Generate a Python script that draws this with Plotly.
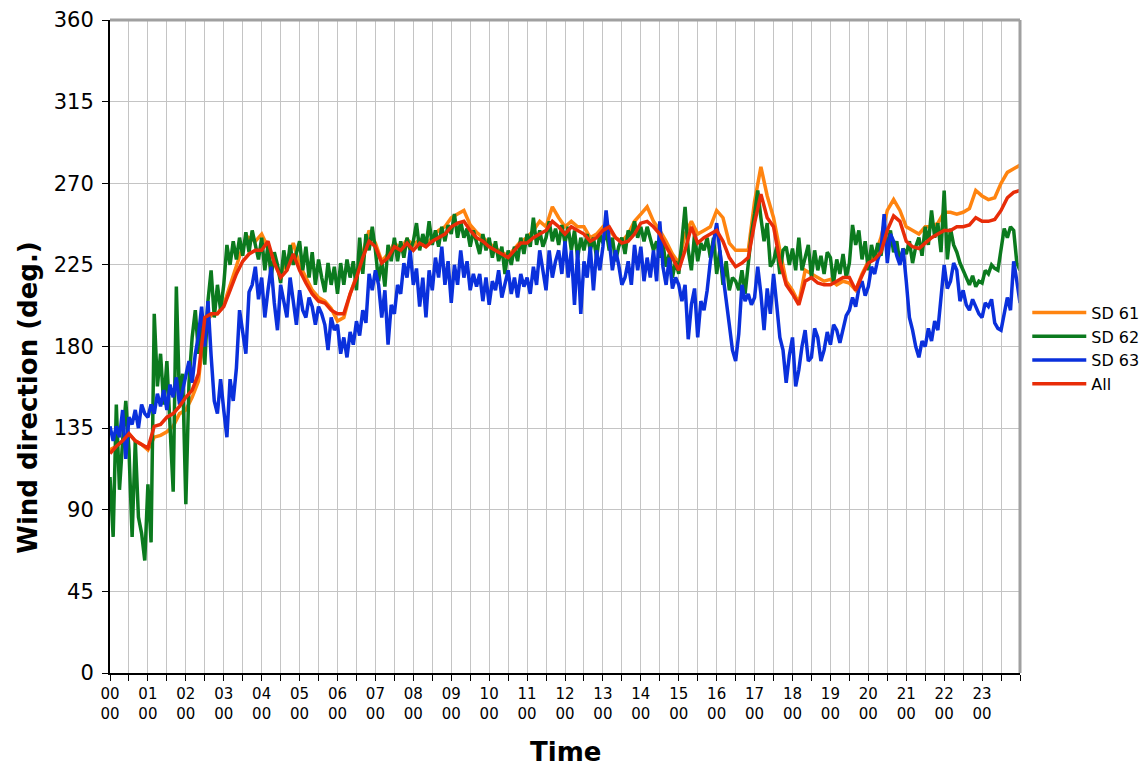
import numpy as np
import plotly.graph_objects as go

# 5-minute samples (00:00 .. 24:00) for the two noisier sensors
sd62 = [
    108, 75, 148, 101, 128, 150, 123, 75, 128, 86, 77, 62,
    104, 72, 198, 158, 176, 148, 172, 140, 100, 213, 150, 165,
    93, 160, 185, 200, 176, 196, 170, 205, 222, 196, 214, 200,
    214, 236, 225, 238, 228, 240, 230, 243, 232, 244, 236, 228,
    240, 222, 236, 218, 232, 225, 215, 233, 222, 236, 225, 232,
    238, 222, 235, 218, 232, 214, 228, 218, 210, 226, 214, 224,
    209, 226, 214, 228, 218, 227, 211, 240, 220, 242, 233, 246,
    233, 216, 227, 213, 236, 227, 240, 227, 238, 229, 240, 233,
    238, 248, 233, 242, 235, 249, 236, 244, 235, 246, 238, 247,
    242, 253, 240, 249, 240, 245, 235, 244, 238, 231, 242, 233,
    240, 229, 238, 227, 235, 220, 233, 225, 235, 227, 240, 231,
    242, 235, 251, 236, 244, 235, 240, 249, 238, 245, 236, 247,
    237, 246, 233, 244, 229, 240, 233, 242, 233, 240, 229, 242,
    237, 244, 233, 240, 227, 235, 240, 231, 244, 240, 249, 240,
    246, 238, 246, 240, 233, 238, 229, 237, 224, 231, 218, 227,
    220, 238, 257, 233, 222, 242, 227, 237, 233, 240, 229, 240,
    220, 233, 214, 227, 211, 218, 216, 211, 222, 209, 225, 242,
    253, 266, 251, 238, 248, 224, 227, 235, 220, 233, 235, 225,
    234, 222, 240, 222, 229, 236, 218, 233, 222, 230, 220, 232,
    229, 215, 228, 220, 231, 218, 226, 247, 236, 244, 228, 238,
    222, 236, 228, 237, 230, 242, 236, 244, 232, 238, 226, 234,
    231, 238, 226, 235, 240, 230, 246, 236, 255, 240, 248, 232,
    266, 228, 245, 236, 232, 226, 222, 218, 214, 219, 213, 216,
    215, 222, 220, 225, 223, 222, 233, 245, 240, 246, 244, 226,
    222,
]

sd63 = [
    136, 128, 136, 130, 145, 118, 141, 137, 145, 135, 148, 143,
    141, 148, 143, 154, 147, 156, 145, 159, 152, 163, 148, 156,
    163, 172, 160, 176, 186, 202, 180, 205, 175, 150, 143, 162,
    145, 130, 162, 150, 168, 200, 188, 176, 210, 214, 224, 206,
    218, 196, 211, 224, 204, 189, 214, 204, 196, 218, 205, 192,
    211, 200, 196, 207, 202, 192, 202, 198, 192, 178, 196, 189,
    192, 176, 185, 174, 188, 181, 194, 186, 200, 193, 220, 211,
    222, 214, 196, 211, 181, 203, 198, 214, 209, 226, 218, 233,
    214, 223, 202, 218, 196, 222, 211, 229, 218, 235, 214, 227,
    204, 225, 214, 233, 218, 227, 211, 220, 213, 220, 205, 218,
    203, 216, 211, 222, 207, 214, 222, 209, 218, 207, 220, 213,
    218, 209, 224, 214, 233, 222, 211, 233, 218, 227, 233, 220,
    238, 218, 233, 203, 233, 198, 227, 218, 235, 211, 233, 222,
    235, 255, 236, 222, 233, 225, 214, 218, 227, 214, 236, 222,
    235, 216, 229, 218, 233, 216, 249, 224, 214, 229, 212, 218,
    214, 205, 214, 184, 203, 212, 185, 205, 200, 211, 227, 238,
    248, 233, 218, 205, 192, 178, 172, 187, 214, 205, 209, 203,
    207, 224, 209, 189, 212, 198, 220, 203, 185, 178, 160, 175,
    185, 158, 167, 180, 189, 172, 174, 190, 185, 172, 178, 188,
    181, 192, 189, 182, 190, 197, 200, 207, 202, 212, 216, 208,
    213, 224, 220, 228, 233, 253, 226, 242, 238, 230, 225, 234,
    216, 196, 189, 180, 174, 183, 180, 190, 183, 194, 189, 208,
    225, 212, 216, 226, 222, 205, 211, 203, 200, 206, 202, 198,
    196, 204, 202, 206, 193, 190, 189, 198, 207, 200, 227, 216,
    204,
]

# 10-minute samples (00:00 .. 24:00)
sd61 = [
    123, 125, 128, 132, 128, 126,
    123, 130, 131, 133, 136, 143,
    145, 152, 161, 193, 197, 198,
    203, 214, 224, 235, 240, 238,
    242, 235, 227, 220, 227, 237,
    225, 218, 211, 207, 205, 201,
    194, 196, 209, 219, 231, 244,
    237, 227, 231, 237, 234, 239,
    236, 239, 236, 240, 244, 246,
    251, 253, 255, 247, 243, 240,
    237, 234, 232, 230, 234, 238,
    240, 244, 249, 246, 257, 251,
    246, 249, 246, 246, 240, 242,
    246, 244, 240, 238, 242, 249,
    253, 257, 249, 244, 238, 231,
    226, 242, 249, 242, 244, 246,
    255, 251, 237, 233, 233, 233,
    260, 279, 263, 251, 233, 216,
    211, 204, 222, 220, 218, 216,
    217, 214, 216, 215, 211, 220,
    227, 230, 240, 255, 261, 255,
    246, 244, 242, 246, 246, 248,
    254, 254, 253, 254, 256, 266,
    263, 261, 262, 270, 276, 278,
    280,
]

all_sites = [
    121, 125, 128, 132, 128, 126,
    124, 136, 137, 141, 143, 147,
    152, 156, 165, 196, 198, 198,
    202, 211, 220, 227, 231, 233,
    233, 238, 226, 218, 222, 231,
    222, 215, 209, 205, 204, 200,
    198, 198, 209, 218, 229, 238,
    235, 226, 229, 235, 233, 237,
    233, 237, 235, 238, 240, 242,
    246, 248, 249, 244, 240, 238,
    235, 233, 231, 229, 233, 237,
    237, 240, 242, 244, 249, 246,
    242, 246, 244, 242, 238, 240,
    244, 246, 240, 237, 238, 242,
    248, 249, 246, 242, 235, 229,
    222, 233, 246, 237, 240, 242,
    244, 238, 229, 224, 226, 229,
    248, 264, 251, 246, 227, 214,
    209, 203, 216, 218, 215, 214,
    214, 216, 218, 218, 211, 219,
    226, 228, 232, 244, 252, 249,
    238, 235, 234, 237, 240, 242,
    244, 244, 246, 246, 247, 251,
    249, 249, 250, 255, 262, 265,
    266,
]

hour_labels = [f"{h:02d}<br>00" for h in range(24)]

t5 = np.arange(len(sd62)) * 5 / 60.0
t10 = np.arange(len(sd61)) * 10 / 60.0

fig = go.Figure()
fig.add_trace(go.Scatter(x=t10, y=sd61, name="SD 61", mode="lines",
                         line=dict(color="#FF8410", width=3.5)))
fig.add_trace(go.Scatter(x=t5, y=sd62, name="SD 62", mode="lines",
                         line=dict(color="#0B7A1E", width=3.5)))
fig.add_trace(go.Scatter(x=t5, y=sd63, name="SD 63", mode="lines",
                         line=dict(color="#0A30DC", width=3.5)))
fig.add_trace(go.Scatter(x=t10, y=all_sites, name="All", mode="lines",
                         line=dict(color="#E82C08", width=3.5)))

font_family = "Verdana, DejaVu Sans, sans-serif"

fig.update_layout(
    width=1146, height=767,
    margin=dict(l=110, r=126, t=20, b=94, autoexpand=False),
    paper_bgcolor="white", plot_bgcolor="white",
    font=dict(family=font_family, color="black"),
    showlegend=True,
    legend=dict(x=1.008, y=0.578, xanchor="left", yanchor="top",
                font=dict(size=16), tracegroupgap=0,
                itemwidth=54, bgcolor="rgba(0,0,0,0)"),
    xaxis=dict(
        range=[0, 24], tickmode="array",
        tickvals=list(range(24)), ticktext=hour_labels,
        tickfont=dict(size=15), ticks="outside", ticklen=6,
        tickcolor="black", tickwidth=1,
        showgrid=True, gridcolor="#C4C4C4", gridwidth=1,
        minor=dict(dtick=0.5, showgrid=True, gridcolor="#C4C4C4",
                   ticks="outside", ticklen=6, tickcolor="black"),
        showline=True, linecolor="black", linewidth=2,
        zeroline=False, automargin=False,
    ),
    yaxis=dict(
        range=[0, 360], tickmode="linear", tick0=0, dtick=45,
        tickfont=dict(size=21), ticks="outside", ticklen=6,
        tickcolor="black", ticklabelstandoff=4,
        showgrid=True, gridcolor="#C4C4C4", gridwidth=1,
        showline=True, linecolor="black", linewidth=2,
        zeroline=False, automargin=False,
    ),
)

# axis titles
fig.add_annotation(text="<b>Wind direction (deg.)</b>", xref="paper", yref="paper",
                   x=-0.0905, y=0.421, xanchor="center", yanchor="middle",
                   textangle=-90, showarrow=False, font=dict(size=26))
fig.add_annotation(text="<b>Time</b>", xref="paper", yref="paper",
                   x=0.5, y=-0.121, xanchor="center", yanchor="middle",
                   showarrow=False, font=dict(size=26))

# grey frame on the top and right edges of the plotting area
fig.add_shape(type="line", xref="paper", yref="paper", x0=0, x1=1, y0=1, y1=1,
              line=dict(color="#A0A0A0", width=3))
fig.add_shape(type="line", xref="paper", yref="paper", x0=1, x1=1, y0=0, y1=1,
              line=dict(color="#A0A0A0", width=3))

fig.write_html("out.html")
